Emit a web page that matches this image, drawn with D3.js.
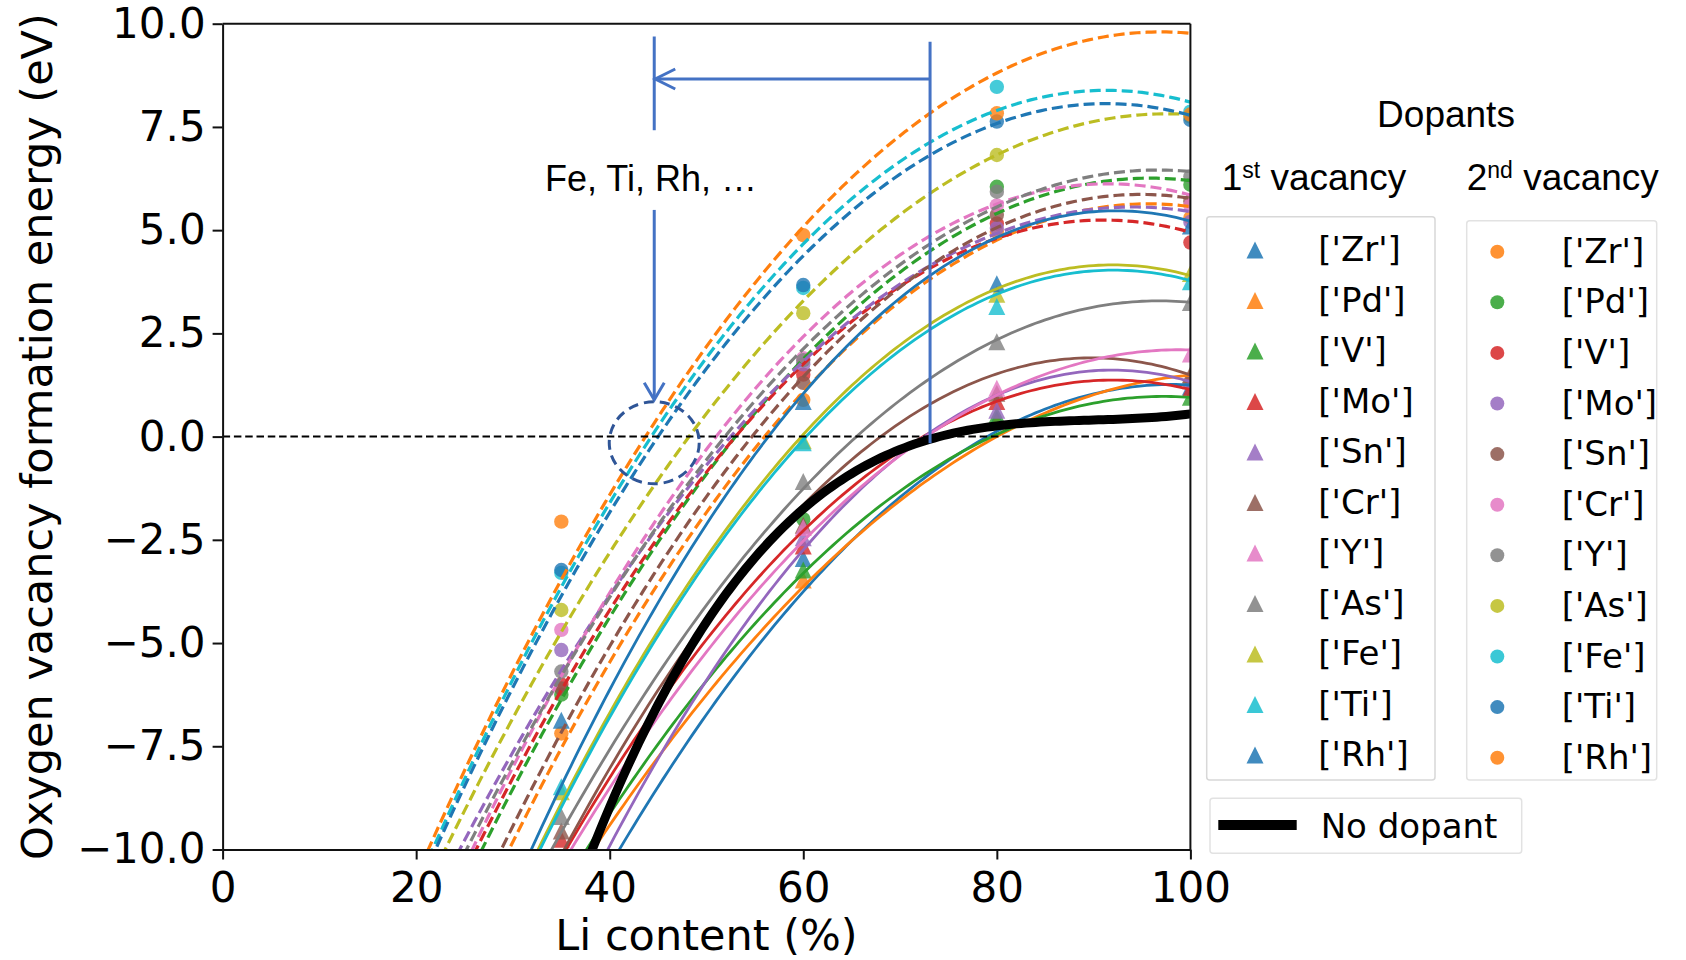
<!DOCTYPE html>
<html>
<head>
<meta charset="utf-8">
<script src="https://cdn.jsdelivr.net/npm/d3@7"></script>
<style>
    body { margin: 0; background: #fff; }
    text { font-family: "DejaVu Sans", sans-serif; fill: #000; }
    .arial { font-family: "Liberation Sans", Arial, sans-serif; }
</style>
</head>
<body>
<svg id="chart" width="1686" height="960"></svg>
<script>
// Li content (%) of the computed structures
var liContent = [35, 60, 80, 100];
var dopants = ['Zr', 'Pd', 'V', 'Mo', 'Sn', 'Cr', 'Y', 'As', 'Fe', 'Ti', 'Rh'];
var palette = ['#1f77b4', '#ff7f0e', '#2ca02c', '#d62728', '#9467bd',
    '#8c564b', '#e377c2', '#7f7f7f', '#bcbd22', '#17becf'];

// oxygen vacancy formation energy (eV), 1st vacancy, one row per dopant
var firstVacancy = [
    [-14.0, -2.95, 0.42, 1.20],
    [-14.5, -3.47, 0.35, 1.45],
    [-13.5, -3.23, 0.52, 0.95],
    [-9.75, -2.65, 0.85, 1.15],
    [-13.0, -2.45, 0.64, 1.35],
    [-9.55, -2.15, 1.05, 1.50],
    [-10.4, -2.20, 1.17, 2.00],
    [-9.20, -1.09, 2.30, 3.25],
    [-8.60, -0.10, 3.45, 3.95],
    [-8.48, -0.15, 3.15, 3.75],
    [-6.87, 0.85, 3.70, 5.10]
];
// 2nd vacancy
var secondVacancy = [
    [-7.19, 0.89, 4.96, 5.30],
    [-6.25, -2.00, 6.05, 6.10],
    [-6.00, 1.50, 5.16, 4.70],
    [-5.17, 1.75, 5.05, 5.20],
    [-6.10, 1.30, 5.37, 5.70],
    [-4.68, 1.90, 5.60, 5.60],
    [-5.69, 1.85, 5.93, 6.30],
    [-4.20, 2.99, 6.82, 7.75],
    [-3.30, 3.60, 8.47, 7.87],
    [-3.23, 3.67, 7.63, 7.67],
    [-2.06, 4.88, 7.83, 7.80]
];

// fitted curves: Li (%) where the fit is -10 eV, Li (%) where it is 0 eV, fit value at 100 %
var firstFitLow = [41.0, 38.3, 37.6, 35.5, 39.8, 35.3, 36.0, 34.0, 32.6, 32.8, 31.9];
var firstFitZero = [79.0, 80.0, 79.5, 72.4, 72.5, 68.0, 72.7, 65.5, 59.8, 60.3, 56.4];
var firstFitEnd = [1.25, 1.49, 0.95, 1.14, 1.33, 1.49, 2.10, 3.25, 3.90, 3.78, 5.22];
var secondFitLow = [29.6, 26.8, 26.2, 24.5, 28.8, 25.8, 25.2, 23.0, 21.7, 22.0, 21.25];
var secondFitZero = [56.0, 53.0, 53.0, 52.5, 54.7, 51.0, 51.9, 48.2, 44.3, 45.0, 43.7];
var secondFitEnd = [5.57, 6.20, 4.95, 5.45, 5.77, 5.85, 6.42, 7.80, 8.10, 7.78, 9.77];

// no dopant reference (eV)
var noDopant = [-12.0, -1.75, 0.26, 0.55];

var xTicks = [0, 20, 40, 60, 80, 100];
var yTicks = [-10, -7.5, -5, -2.5, 0, 2.5, 5, 7.5, 10];

var svg = d3.select('#chart');
var plotLeft = 222.6, plotRight = 1190.4, plotTop = 23.7, plotBottom = 849.5;

var x = d3.scaleLinear().domain([0, 100]).range([plotLeft, plotRight]);
var y = d3.scaleLinear().domain([-10, 10]).range([plotBottom, plotTop]);

// polynomial through the given points (Newton form)
function newtonPoly(xs, ys) {
    var n = xs.length, c = ys.slice();
    for (var j = 1; j < n; j++) {
        for (var i = n - 1; i >= j; i--) {
            c[i] = (c[i] - c[i - 1]) / (xs[i] - xs[i - j]);
        }
    }
    return function (t) {
        var v = c[n - 1];
        for (var i = n - 2; i >= 0; i--) v = v * (t - xs[i]) + c[i];
        return v;
    };
}

var grid = d3.range(0, 100.001, 0.5);
var line = d3.line().x(function (d) { return x(d[0]); }).y(function (d) { return y(d[1]); });

function curve(f) {
    return grid.map(function (t) { return [t, f(t)]; });
}

svg.append('clipPath').attr('id', 'plotClip')
    .append('rect')
    .attr('x', plotLeft).attr('y', plotTop)
    .attr('width', plotRight - plotLeft).attr('height', plotBottom - plotTop);

var plot = svg.append('g').attr('clip-path', 'url(#plotClip)');

function triPath(s) {
    var h = s / 2;
    return 'M0,' + (-h) + 'L' + h + ',' + h + 'L' + (-h) + ',' + h + 'Z';
}

// markers
dopants.forEach(function (d, i) {
    var c1 = palette[i % 10], c2 = palette[(i + 1) % 10];
    plot.selectAll(null)
        .data(firstVacancy[i].map(function (v, k) { return [liContent[k], v]; }))
        .enter().append('path')
        .attr('d', triPath(17))
        .attr('transform', function (p) { return 'translate(' + x(p[0]) + ',' + y(p[1]) + ')'; })
        .attr('fill', c1).attr('fill-opacity', 0.8);
    plot.selectAll(null)
        .data(secondVacancy[i].map(function (v, k) { return [liContent[k], v]; }))
        .enter().append('circle')
        .attr('cx', function (p) { return x(p[0]); })
        .attr('cy', function (p) { return y(p[1]); })
        .attr('r', 7.2)
        .attr('fill', c2).attr('fill-opacity', 0.8);
});

// fitted lines
dopants.forEach(function (d, i) {
    var c1 = palette[i % 10], c2 = palette[(i + 1) % 10];
    var f1 = newtonPoly([firstFitLow[i], firstFitZero[i], 100], [-10, 0, firstFitEnd[i]]);
    var f2 = newtonPoly([secondFitLow[i], secondFitZero[i], 100], [-10, 0, secondFitEnd[i]]);
    plot.append('path')
        .attr('d', line(curve(f1)))
        .attr('fill', 'none').attr('stroke', c1).attr('stroke-width', 2.8);
    plot.append('path')
        .attr('d', line(curve(f2)))
        .attr('fill', 'none').attr('stroke', c2).attr('stroke-width', 3.2)
        .attr('stroke-dasharray', '11,5');
});

// zero line
plot.append('line')
    .attr('x1', x(0)).attr('x2', x(100))
    .attr('y1', y(0)).attr('y2', y(0))
    .attr('stroke', '#000').attr('stroke-width', 2)
    .attr('stroke-dasharray', '7.5,3.8');

// no dopant
var f0 = newtonPoly(liContent, noDopant);
plot.append('path')
    .attr('d', line(curve(f0)))
    .attr('fill', 'none').attr('stroke', '#000').attr('stroke-width', 9);

// axes
var xAxis = svg.append('g')
    .attr('transform', 'translate(0,' + plotBottom + ')')
    .call(d3.axisBottom(x).tickValues(xTicks).tickSize(10).tickSizeOuter(0).tickPadding(13)
        .tickFormat(d3.format('d')));
var yAxis = svg.append('g')
    .attr('transform', 'translate(' + plotLeft + ',0)')
    .call(d3.axisLeft(y).tickValues(yTicks).tickSize(10).tickSizeOuter(0).tickPadding(7)
        .tickFormat(d3.format('.1f')));

[xAxis, yAxis].forEach(function (a) {
    a.selectAll('path, line').attr('stroke', '#111').attr('stroke-width', 2);
    a.selectAll('text').attr('font-size', 42).attr('font-family', 'DejaVu Sans').attr('fill', '#000');
});

svg.append('line').attr('x1', plotLeft).attr('x2', plotRight).attr('y1', plotTop).attr('y2', plotTop)
    .attr('stroke', '#111').attr('stroke-width', 2);
svg.append('line').attr('x1', plotRight).attr('x2', plotRight).attr('y1', plotTop).attr('y2', plotBottom)
    .attr('stroke', '#111').attr('stroke-width', 2);

svg.append('text')
    .attr('x', (plotLeft + plotRight) / 2).attr('y', 950)
    .attr('text-anchor', 'middle').attr('font-size', 43)
    .text('Li content (%)');

svg.append('text')
    .attr('transform', 'translate(52,' + ((plotTop + plotBottom) / 2) + ') rotate(-90)')
    .attr('text-anchor', 'middle').attr('font-size', 43)
    .text('Oxygen vacancy formation energy (eV)');

// annotation
var blue = '#4472c4';
var ann = svg.append('g').attr('stroke', blue).attr('stroke-width', 3).attr('fill', 'none');
var ax = x(44.6), bx = x(73.1);
ann.append('line').attr('x1', ax).attr('x2', ax).attr('y1', y(9.69)).attr('y2', y(7.42));
ann.append('line').attr('x1', ax).attr('x2', ax).attr('y1', y(5.49)).attr('y2', y(0.89));
ann.append('path').attr('d', 'M' + (ax - 10) + ',' + (y(0.89) - 17) + 'L' + ax + ',' + y(0.89) +
    'L' + (ax + 10) + ',' + (y(0.89) - 17));
ann.append('line').attr('x1', bx).attr('x2', bx).attr('y1', y(9.56)).attr('y2', y(-0.16));
ann.append('line').attr('x1', bx).attr('x2', ax + 1).attr('y1', y(8.66)).attr('y2', y(8.66));
ann.append('path').attr('d', 'M' + (ax + 21) + ',' + (y(8.66) - 10) + 'L' + (ax + 1) + ',' + y(8.66) +
    'L' + (ax + 21) + ',' + (y(8.66) + 10));
svg.append('ellipse')
    .attr('cx', ax).attr('cy', y(-0.15)).attr('rx', 45).attr('ry', 41)
    .attr('fill', 'none').attr('stroke', '#2f5597').attr('stroke-width', 3)
    .attr('stroke-dasharray', '10,6');
svg.append('text').attr('class', 'arial')
    .attr('x', 651).attr('y', 191).attr('text-anchor', 'middle').attr('font-size', 36)
    .text('Fe, Ti, Rh, …');

// legends
svg.append('text').attr('class', 'arial')
    .attr('x', 1446).attr('y', 127).attr('text-anchor', 'middle').attr('font-size', 37)
    .text('Dopants');

function vacancyTitle(x0, num, sup) {
    var t = svg.append('text').attr('class', 'arial')
        .attr('x', x0).attr('y', 190).attr('font-size', 37);
    t.append('tspan').text(num);
    t.append('tspan').attr('font-size', 23).attr('dy', -12).text(sup);
    t.append('tspan').attr('dy', 12).text(' vacancy');
}
vacancyTitle(1221.7, '1', 'st');
vacancyTitle(1466.7, '2', 'nd');

svg.append('rect').attr('x', 1206.7).attr('y', 216.7).attr('width', 228.3).attr('height', 563.3)
    .attr('rx', 3).attr('fill', '#fff').attr('stroke', '#d8d8d8').attr('stroke-width', 1.5);
svg.append('rect').attr('x', 1466.7).attr('y', 220.7).attr('width', 190).attr('height', 559.3)
    .attr('rx', 3).attr('fill', '#fff').attr('stroke', '#e2e2e2').attr('stroke-width', 1.5);

var leg1 = svg.selectAll('.leg1').data(dopants).enter().append('g')
    .attr('transform', function (d, i) { return 'translate(0,' + (250 + 50.5 * i) + ')'; });
leg1.append('path').attr('d', triPath(17))
    .attr('transform', 'translate(1255,0)')
    .attr('fill', function (d, i) { return palette[i % 10]; }).attr('fill-opacity', 0.85);
leg1.append('text').attr('x', 1318.3).attr('y', 11).attr('font-size', 34)
    .text(function (d) { return "['" + d + "']"; });

var leg2 = svg.selectAll('.leg2').data(dopants).enter().append('g')
    .attr('transform', function (d, i) { return 'translate(0,' + (251.7 + 50.6 * i) + ')'; });
leg2.append('circle').attr('cx', 1497.3).attr('cy', 0).attr('r', 7)
    .attr('fill', function (d, i) { return palette[(i + 1) % 10]; }).attr('fill-opacity', 0.85);
leg2.append('text').attr('x', 1561.7).attr('y', 11).attr('font-size', 34)
    .text(function (d) { return "['" + d + "']"; });

svg.append('rect').attr('x', 1210).attr('y', 798.3).attr('width', 311.7).attr('height', 55)
    .attr('rx', 3).attr('fill', '#fff').attr('stroke', '#e2e2e2').attr('stroke-width', 1.5);
svg.append('line').attr('x1', 1218.3).attr('x2', 1296.7).attr('y1', 825).attr('y2', 825)
    .attr('stroke', '#000').attr('stroke-width', 10);
svg.append('text').attr('x', 1320.7).attr('y', 838).attr('font-size', 34).text('No dopant');
</script>
</body>
</html>
